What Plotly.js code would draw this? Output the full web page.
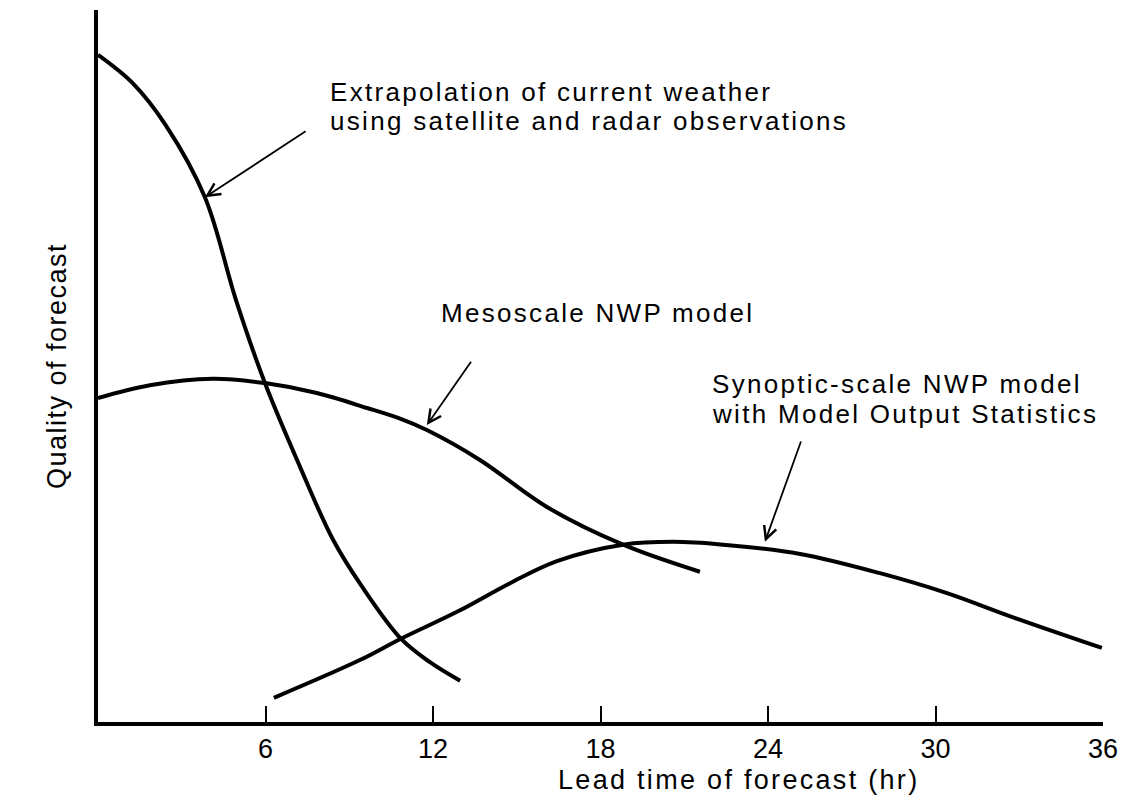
<!DOCTYPE html>
<html>
<head>
<meta charset="utf-8">
<script src="https://cdn.plot.ly/plotly-3.0.1.min.js"></script>
<style>
  html, body { margin: 0; padding: 0; background: #fff; }
  #chart { width: 1135px; height: 804px; }
  .annotation-text { letter-spacing: 2.3px; }
  .ytitle { letter-spacing: 1.5px; }
</style>
</head>
<body>
<div id="chart"></div>
<script>
// Lead time (hr) and relative forecast quality
const extrapHours   = [0, 1.25, 2.43, 3.83, 4.94, 5.98, 7.24, 8.42, 9.46, 10.85, 11.89, 12.97];
const extrapQuality = [93.7, 89.7, 83.8, 73.7, 59.3, 47.6, 35.8, 25.6, 19.0, 11.7, 8.4, 5.8];

const mesoHours   = [0, 1.86, 4.12, 5.98, 7.84, 9.64, 10.82, 11.78, 13.68, 16.08, 18.81, 21.56];
const mesoQuality = [45.5, 47.3, 48.2, 47.6, 46.2, 44.1, 42.6, 41.0, 36.8, 30.2, 24.9, 21.1];

const synHours   = [6.30, 9.38, 10.85, 12.97, 14.76, 16.44, 18.81, 20.60, 22.39, 25.15, 28.01, 30.41, 32.78, 35.96];
const synQuality = [3.4, 8.7, 11.7, 15.7, 19.5, 22.6, 24.9, 25.3, 24.9, 23.6, 20.9, 18.1, 14.7, 10.4];

const tickHours = [6, 12, 18, 24, 30, 36];
const tickLabels = ['6', '12', '18', '24', '30', '36'];

const xTitle = 'Lead time of forecast (hr)';
const yTitle = 'Quality of forecast';
const extrapLabel = ['Extrapolation of current weather', 'using satellite and radar observations'];
const mesoLabel = ['Mesoscale NWP model'];
const synLabel = ['Synoptic-scale NWP model', 'with Model Output Statistics'];

const FONT = '"Liberation Sans", Arial, Helvetica, sans-serif';
const INK = '#000000';

function curve(x, y, name) {
  return {
    x: x, y: y, name: name, type: 'scatter', mode: 'lines',
    line: { color: INK, width: 4, shape: 'spline', smoothing: 1 },
    hoverinfo: 'skip', showlegend: false
  };
}

const data = [
  curve(extrapHours, extrapQuality, 'Extrapolation'),
  curve(mesoHours, mesoQuality, 'Mesoscale NWP model'),
  curve(synHours, synQuality, 'Synoptic-scale NWP model with MOS')
];

function textLine(txt, x, y) {
  return {
    text: txt, x: x, y: y, xref: 'x', yref: 'y',
    xanchor: 'left', yanchor: 'middle', showarrow: false,
    font: { family: FONT, size: 26, color: INK }
  };
}
function arrow(x, y, ax, ay) {
  return {
    text: '', x: x, y: y, ax: ax, ay: ay, xref: 'x', yref: 'y', axref: 'x', ayref: 'y',
    showarrow: true, arrowhead: 5, arrowsize: 1.4, arrowwidth: 1.8, arrowcolor: INK, standoff: 0
  };
}

const annotations = [
  textLine(extrapLabel[0], 8.24, 88.5),
  textLine(extrapLabel[1], 8.24, 84.4),
  textLine(mesoLabel[0], 12.21, 57.4),
  textLine(synLabel[0], 21.92, 47.5),
  textLine(synLabel[1], 21.92, 43.3),
  arrow(3.83, 73.7, 7.49, 83.1),
  arrow(11.78, 41.7, 13.40, 50.8),
  arrow(23.89, 25.3, 25.20, 39.6),
  {
    text: xTitle, x: 22.96, y: -0.0815, xref: 'x', yref: 'paper',
    xanchor: 'center', yanchor: 'middle', showarrow: false,
    font: { family: FONT, size: 27, color: INK }
  }
];

const layout = {
  width: 1135, height: 804,
  margin: { l: 98, r: 32, t: 10, b: 82 },
  paper_bgcolor: '#ffffff', plot_bgcolor: '#ffffff',
  font: { family: FONT, color: INK },
  showlegend: false,
  xaxis: {
    range: [0, 36], showgrid: false, zeroline: false,
    showline: true, linecolor: INK, linewidth: 4,
    tickmode: 'array', tickvals: tickHours, ticktext: tickLabels,
    ticks: 'inside', ticklen: 16, tickwidth: 2, tickcolor: INK,
    tickfont: { family: FONT, size: 27, color: INK },
    fixedrange: true
  },
  yaxis: {
    range: [0, 100], showgrid: false, zeroline: false,
    showline: true, linecolor: INK, linewidth: 4,
    showticklabels: false, ticks: '',
    title: { text: yTitle, font: { family: FONT, size: 27, color: INK }, standoff: 21 },
    fixedrange: true
  },
  annotations: annotations
};

Plotly.newPlot('chart', data, layout, { displayModeBar: false, staticPlot: true });
</script>
</body>
</html>
